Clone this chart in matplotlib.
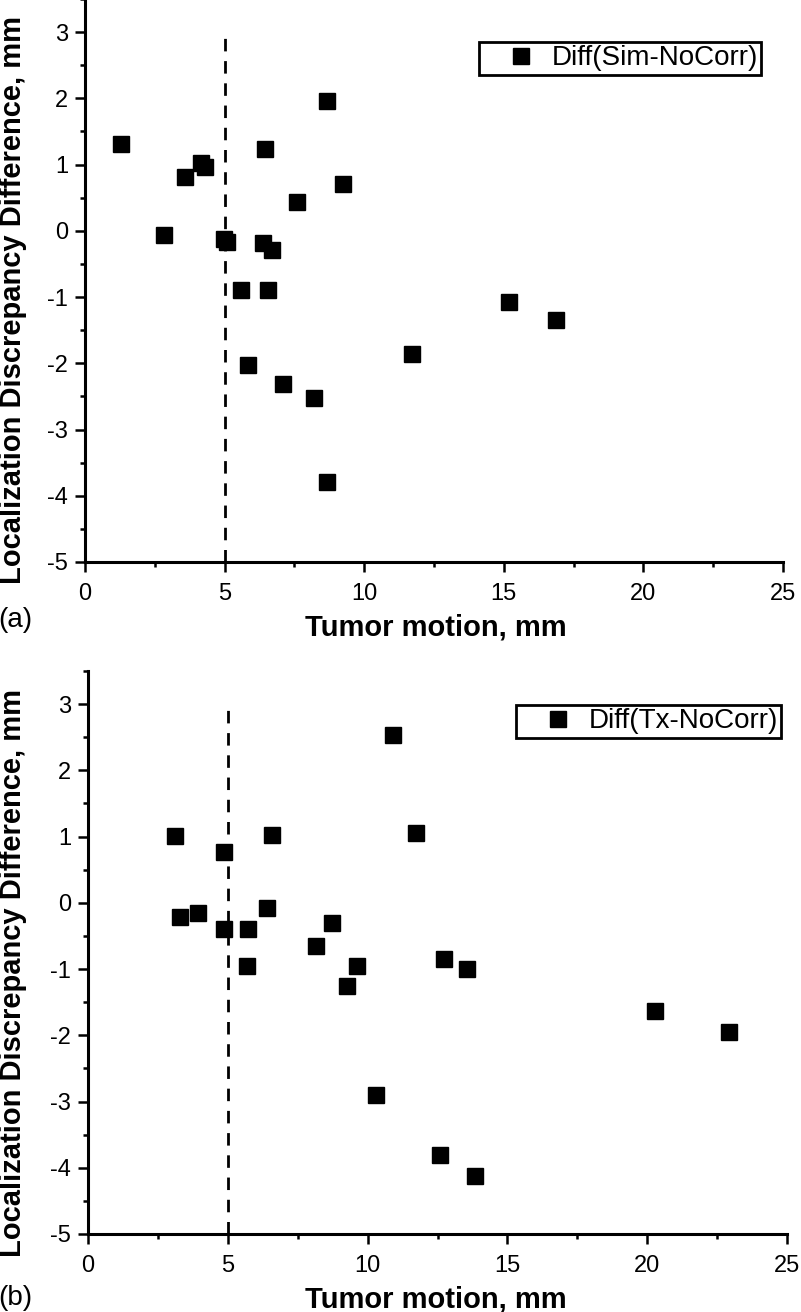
import numpy as np
import matplotlib
matplotlib.use("Agg")
import matplotlib.pyplot as plt
from matplotlib.ticker import MultipleLocator

plt.rcParams['font.family'] = ['Liberation Sans', 'DejaVu Sans']
plt.rcParams['axes.unicode_minus'] = False

# (a) Diff(Sim-NoCorr)
motion_a = [1.28, 2.84, 3.58, 4.15, 4.30, 4.98, 5.10, 6.45, 6.39, 6.69, 5.58, 6.54,
            8.66, 9.25, 7.61, 15.2, 16.86, 11.72, 5.83, 7.08, 8.21, 8.66]
diff_a = [1.31, -0.06, 0.82, 1.03, 0.97, -0.13, -0.17, 1.23, -0.19, -0.29, -0.89, -0.89,
          1.96, 0.70, 0.44, -1.08, -1.35, -1.86, -2.02, -2.31, -2.53, -3.79]

# (b) Diff(Tx-NoCorr)
motion_b = [3.11, 3.29, 3.92, 4.86, 4.86, 6.59, 6.39, 5.71, 5.68, 8.14, 8.71, 9.63,
            9.25, 10.92, 11.73, 12.74, 13.54, 10.29, 20.28, 22.93, 12.59, 13.84]
diff_b = [1.01, -0.21, -0.16, 0.76, -0.40, 1.02, -0.08, -0.39, -0.96, -0.65, -0.31, -0.96,
          -1.25, 2.53, 1.06, -0.85, -1.00, -2.90, -1.63, -1.95, -3.80, -4.13]

threshold = 5
labels = ["Diff(Sim-NoCorr)", "Diff(Tx-NoCorr)"]
panel_tags = ["(a)", "(b)"]

W, H = 801, 1312
fig = plt.figure(figsize=(W / 100, H / 100), dpi=100)

axes_px = [(85, 783, -1, 562), (88, 787, 671, 1234)]
legend_anchor = [(761, 42), (781, 705)]
tag_pos = [(15, 620), (15, 1298)]
xlabel_y = [627, 1300]
ylabel_y = [300, 973]
datasets = [(motion_a, diff_a), (motion_b, diff_b)]

for i in range(2):
    l, r, t, b = axes_px[i]
    ax = fig.add_axes([l / W, (H - b) / H, (r - l) / W, (b - t) / H])
    x, y = datasets[i]
    ax.plot(x, y, 's', color='black', markersize=12, linestyle='none', label=labels[i])
    ax.plot([threshold, threshold], [-5, 3], color='black', lw=2.0, dashes=(4.5, 3.5))

    ax.set_xlim(0, 25)
    ax.set_ylim(-5, 3.5)
    ax.xaxis.set_major_locator(MultipleLocator(5))
    ax.xaxis.set_minor_locator(MultipleLocator(2.5))
    ax.set_yticks([-5, -4, -3, -2, -1, 0, 1, 2, 3])
    ax.yaxis.set_minor_locator(MultipleLocator(0.5))

    for s in ['top', 'right']:
        ax.spines[s].set_visible(False)
    for s in ['left', 'bottom']:
        ax.spines[s].set_linewidth(2.2)
    ax.tick_params(which='major', direction='out', length=7, width=1.8, labelsize=17)
    ax.tick_params(which='minor', direction='out', length=3.5, width=1.8)
    ax.tick_params(axis='x', which='major', pad=8)
    ax.tick_params(axis='y', which='major', pad=5)

    ax.set_xlabel("Tumor motion, mm", fontsize=21, fontweight='bold')
    ax.set_ylabel("Localization Discrepancy Difference, mm", fontsize=21, fontweight='bold')
    ax.xaxis.label.set_va('center')
    ax.yaxis.label.set_va('center')
    ax.xaxis.set_label_coords((436 - l) / (r - l), (b - xlabel_y[i]) / (b - t))
    ax.yaxis.set_label_coords((13 - l) / (r - l), (b - ylabel_y[i]) / (b - t))

    lx, ly = legend_anchor[i]
    leg = ax.legend(loc='upper right', bbox_to_anchor=((lx - l) / (r - l), (b - ly) / (b - t)),
                    borderaxespad=0, fontsize=20, frameon=True, fancybox=False,
                    framealpha=1, edgecolor='black', borderpad=0.12,
                    handlelength=2.8, handletextpad=-0.3, numpoints=1)
    leg.get_frame().set_linewidth(2.0)

    tx, ty = tag_pos[i]
    fig.text(tx / W, (H - ty) / H, panel_tags[i], fontsize=20, ha='center', va='center')

fig.savefig("out.png", dpi=100)
